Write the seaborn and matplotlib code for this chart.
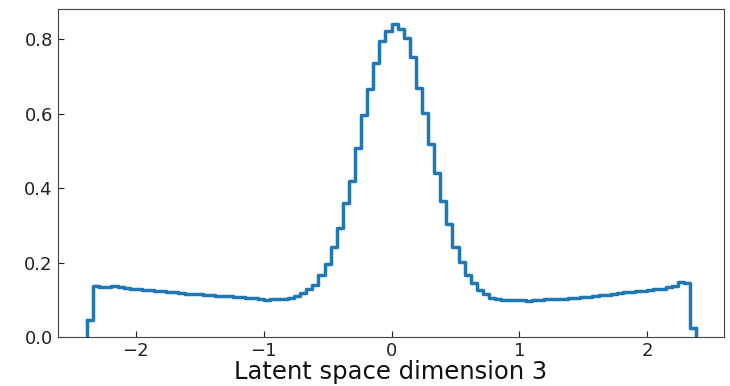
import numpy as np
import pandas as pd
import matplotlib
matplotlib.use("Agg")
import matplotlib.pyplot as plt
import seaborn as sns

# histogram of latent dimension 3, 100 bins between -2.38 and 2.38 (density values)
x_min, x_max, n_bins = -2.38, 2.38, 100
density = [
    0.046, 0.137, 0.136, 0.135, 0.137, 0.134, 0.132, 0.131, 0.129, 0.128,
    0.126, 0.125, 0.124, 0.122, 0.121, 0.119, 0.117, 0.116, 0.115, 0.114,
    0.113, 0.112, 0.111, 0.110, 0.109, 0.107, 0.106, 0.105, 0.102, 0.101,
    0.102, 0.103, 0.104, 0.106, 0.112, 0.118, 0.129, 0.140, 0.167, 0.196,
    0.243, 0.293, 0.360, 0.420, 0.507, 0.597, 0.666, 0.737, 0.796, 0.822,
    0.840, 0.827, 0.803, 0.753, 0.670, 0.601, 0.518, 0.442, 0.366, 0.304,
    0.243, 0.203, 0.167, 0.147, 0.127, 0.115, 0.105, 0.102, 0.100, 0.100,
    0.099, 0.100, 0.098, 0.100, 0.099, 0.102, 0.102, 0.103, 0.104, 0.105,
    0.106, 0.108, 0.109, 0.111, 0.113, 0.114, 0.116, 0.118, 0.121, 0.122,
    0.124, 0.125, 0.127, 0.129, 0.131, 0.135, 0.138, 0.149, 0.145, 0.024,
]
x_label = "Latent space dimension 3"
y_ticks = [0.0, 0.2, 0.4, 0.6, 0.8]
x_ticks = [-2, -1, 0, 1, 2]

edges = np.linspace(x_min, x_max, n_bins + 1)
df = pd.DataFrame({"center": (edges[:-1] + edges[1:]) / 2, "density": density})

fig = plt.figure(figsize=(7.3, 3.86), dpi=100)
ax = fig.add_axes([0.079, 0.126, 0.913, 0.851])

line_color = "#1f77b4"
sns.histplot(data=df, x="center", weights="density", bins=n_bins,
             binrange=(x_min, x_max), stat="count",
             element="step", fill=False, color=line_color, linewidth=2.5, ax=ax)
# close the outline down to zero at both ends, like histtype="step"
ax.vlines([edges[0], edges[-1]], 0, [density[0], density[-1]],
          color=line_color, linewidth=2.5)

ax.set_xlim(-2.61, 2.6)
ax.set_ylim(0, 0.881)
ax.set_xticks(x_ticks)
ax.set_xticklabels([f"\u2212{abs(t)}" if t < 0 else str(t) for t in x_ticks])
ax.set_yticks(y_ticks)
ax.set_yticklabels([f"{t:.1f}" for t in y_ticks])
ax.tick_params(direction="in", labelsize=13, length=4, colors="#222222")
ax.set_xlabel(x_label, fontsize=17.5, color="#111111", labelpad=0)
ax.set_ylabel("")
for s in ax.spines.values():
    s.set_color("#444444")

fig.savefig("out.png", dpi=100)
